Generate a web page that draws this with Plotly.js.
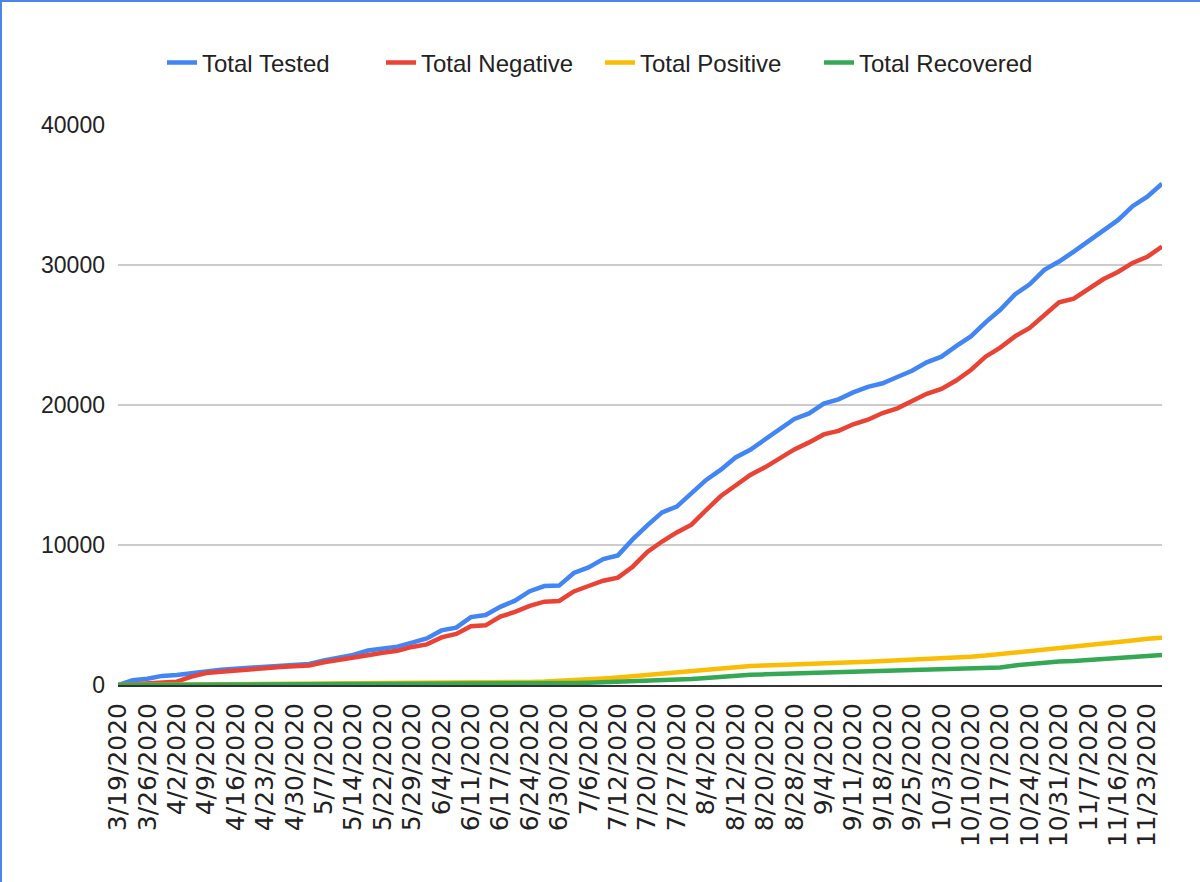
<!DOCTYPE html>
<html>
<head>
<meta charset="utf-8">
<script src="https://cdn.plot.ly/plotly-3.0.1.min.js"></script>
<style>
  html, body { margin: 0; padding: 0; background: #ffffff; }
  #chart { width: 1200px; height: 882px; }
  #frame { position: absolute; left: 0; top: 0; width: 1200px; height: 882px; box-sizing: border-box;
           border-left: 2px solid #4a86e8; border-top: 2px solid #4a86e8; pointer-events: none; }
</style>
</head>
<body>
<div id="chart"></div>
<div id="frame"></div>
<script>
// Category dates (tick dates plus intermediate dates)
const dates = [
  "3/19/2020","3/22/2020","3/26/2020","3/29/2020","4/2/2020","4/5/2020","4/9/2020","4/12/2020",
  "4/16/2020","4/19/2020","4/23/2020","4/26/2020","4/30/2020","5/3/2020","5/7/2020","5/10/2020",
  "5/14/2020","5/18/2020","5/22/2020","5/25/2020","5/29/2020","6/1/2020","6/4/2020","6/7/2020",
  "6/11/2020","6/14/2020","6/17/2020","6/20/2020","6/24/2020","6/27/2020","6/30/2020","7/3/2020",
  "7/6/2020","7/9/2020","7/12/2020","7/16/2020","7/20/2020","7/23/2020","7/27/2020","7/31/2020",
  "8/4/2020","8/8/2020","8/12/2020","8/16/2020","8/20/2020","8/24/2020","8/28/2020","9/1/2020",
  "9/4/2020","9/7/2020","9/11/2020","9/14/2020","9/18/2020","9/21/2020","9/25/2020","9/29/2020",
  "10/3/2020","10/6/2020","10/10/2020","10/13/2020","10/17/2020","10/20/2020","10/24/2020","10/27/2020",
  "10/31/2020","11/3/2020","11/7/2020","11/11/2020","11/16/2020","11/19/2020","11/23/2020","11/25/2020"
];

// Tick labels shown on the x axis
const tickDates = [
  "3/19/2020","3/26/2020","4/2/2020","4/9/2020","4/16/2020","4/23/2020","4/30/2020","5/7/2020",
  "5/14/2020","5/22/2020","5/29/2020","6/4/2020","6/11/2020","6/17/2020","6/24/2020","6/30/2020",
  "7/6/2020","7/12/2020","7/20/2020","7/27/2020","8/4/2020","8/12/2020","8/20/2020","8/28/2020",
  "9/4/2020","9/11/2020","9/18/2020","9/25/2020","10/3/2020","10/10/2020","10/17/2020","10/24/2020",
  "10/31/2020","11/7/2020","11/16/2020","11/23/2020"
];

const totalTested = [
  0, 340, 450, 650, 710, 850, 1000, 1090,
  1170, 1240, 1300, 1370, 1480, 1500, 1750, 1950,
  2150, 2460, 2620, 2740, 3030, 3330, 3900, 4100,
  4850, 5000, 5580, 6024, 6700, 7071, 7100, 8000,
  8400, 9000, 9260, 10400, 11400, 12330, 12740, 13700,
  14650, 15380, 16250, 16800, 17550, 18330, 19000, 19400,
  20100, 20400, 20900, 21300, 21550, 22000, 22450, 23050,
  23450, 24200, 24900, 25900, 26800, 27900, 28620, 29650,
  30250, 30950, 31700, 32480, 33200, 34200, 34880, 35800
];

const totalNegative = [
  0, 60, 110, 170, 240, 600, 850, 950,
  1060, 1130, 1200, 1280, 1360, 1390, 1620, 1760,
  1900, 2120, 2300, 2450, 2720, 2900, 3400, 3650,
  4200, 4262, 4880, 5220, 5650, 5952, 6000, 6680,
  7071, 7450, 7670, 8450, 9500, 10250, 10900, 11450,
  12500, 13500, 14250, 15000, 15550, 16180, 16830, 17330,
  17900, 18150, 18620, 18950, 19430, 19760, 20280, 20800,
  21150, 21750, 22500, 23450, 24100, 24900, 25500, 26450,
  27330, 27600, 28300, 28980, 29500, 30150, 30580, 31320
];

const totalPositive = [
  0, 5, 10, 15, 20, 25, 30, 35,
  40, 45, 50, 55, 60, 65, 70, 75,
  80, 85, 90, 100, 110, 120, 130, 140,
  150, 165, 180, 200, 220, 250, 290, 340,
  400, 470, 540, 630, 720, 820, 950, 1050,
  1150, 1230, 1300, 1350, 1400, 1450, 1500, 1540,
  1570, 1600, 1630, 1660, 1700, 1740, 1780, 1830,
  1900, 1960, 2020, 2100, 2200, 2300, 2420, 2530,
  2620, 2700, 2800, 2920, 3050, 3180, 3300, 3380
];

const totalRecovered = [
  0, 2, 4, 6, 8, 10, 12, 14,
  16, 18, 20, 22, 24, 26, 28, 30,
  33, 36, 40, 45, 50, 55, 60, 65,
  70, 75, 80, 90, 100, 110, 120, 140,
  160, 190, 220, 250, 290, 340, 380, 430,
  500, 600, 700, 730, 760, 790, 820, 850,
  900, 940, 960, 980, 1000, 1020, 1040, 1080,
  1110, 1140, 1170, 1190, 1250, 1400, 1520, 1620,
  1680, 1720, 1780, 1850, 1920, 2000, 2080, 2140
];

const yTicks = [0, 10000, 20000, 30000, 40000];

const seriesNames = ["Total Tested", "Total Negative", "Total Positive", "Total Recovered"];
const seriesColors = ["#4285F4", "#EA4335", "#FBBC04", "#34A853"];
const seriesValues = [totalTested, totalNegative, totalPositive, totalRecovered];

const traces = seriesValues.map((vals, i) => ({
  type: "scatter",
  mode: "lines",
  name: seriesNames[i],
  x: dates,
  y: vals,
  line: { color: seriesColors[i], width: 4.5 },
  hoverinfo: "x+y+name"
}));

const layout = {
  width: 1200,
  height: 882,
  paper_bgcolor: "#ffffff",
  plot_bgcolor: "#ffffff",
  margin: { l: 118, r: 38, t: 125, b: 197 },
  font: { family: "'Liberation Sans', Arial, sans-serif", color: "#222222" },
  showlegend: true,
  legend: {
    orientation: "h",
    xref: "container",
    yref: "container",
    x: 0.5,
    xanchor: "center",
    y: 1 - 63 / 882,
    yanchor: "middle",
    entrywidth: 174,
    entrywidthmode: "pixels",
    itemwidth: 30,
    font: { size: 24, family: "'Liberation Sans', Arial, sans-serif", color: "#222222" },
    traceorder: "normal"
  },
  xaxis: {
    type: "category",
    categoryorder: "array",
    categoryarray: dates,
    range: [0, dates.length - 1],
    tickmode: "array",
    tickvals: tickDates,
    ticktext: tickDates,
    tickangle: -90,
    tickfont: { size: 25, family: "'DejaVu Sans', sans-serif", color: "#222222" },
    ticks: "",
    ticklabelstandoff: 6,
    showgrid: false,
    showline: true,
    linecolor: "#333333",
    linewidth: 2,
    zeroline: false,
    fixedrange: true
  },
  yaxis: {
    range: [0, 40000],
    tickmode: "array",
    tickvals: yTicks,
    ticktext: yTicks.map(String),
    tickfont: { size: 23, color: "#222222" },
    ticks: "",
    ticklabelstandoff: 12,
    showgrid: true,
    gridcolor: "#cccccc",
    gridwidth: 2,
    zeroline: false,
    showline: false,
    fixedrange: true
  }
};

Plotly.newPlot("chart", traces, layout, { displayModeBar: false, staticPlot: true });
</script>
</body>
</html>
